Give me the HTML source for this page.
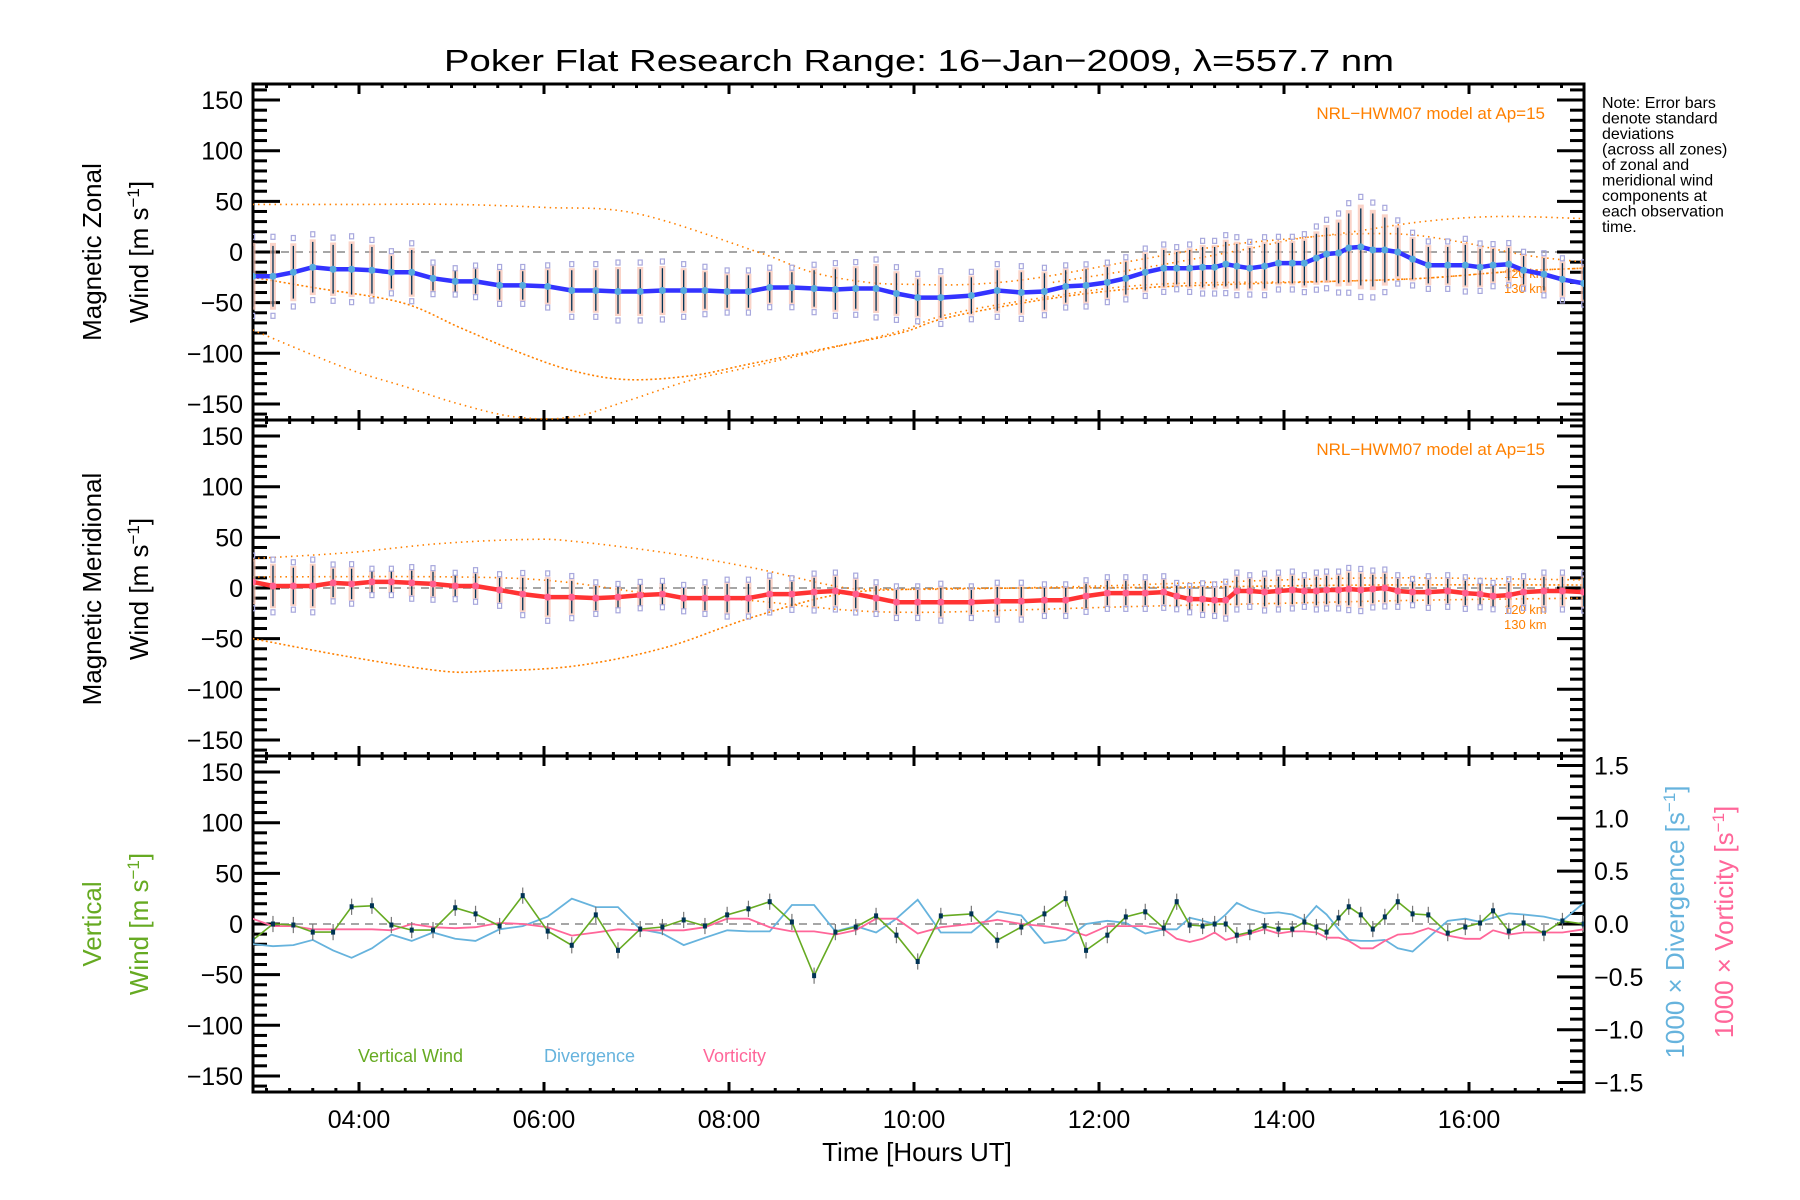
<!DOCTYPE html>
<html><head><meta charset="utf-8"><title>Poker Flat Research Range</title>
<style>
html,body{margin:0;padding:0;background:#fff;}
svg{display:block;font-family:"Liberation Sans",sans-serif;}
</style></head>
<body>
<svg id="chart" width="1800" height="1200" viewBox="0 0 1800 1200" xmlns="http://www.w3.org/2000/svg"></svg>
<script>
// ---- data ----
const times = [2.85,3.07,3.29,3.50,3.72,3.92,4.14,4.35,4.57,4.80,5.04,5.26,5.52,5.77,6.04,6.30,6.56,6.80,7.04,7.28,7.51,7.74,7.98,8.21,8.44,8.68,8.92,9.15,9.37,9.59,9.81,10.04,10.29,10.62,10.90,11.16,11.41,11.64,11.86,12.09,12.29,12.50,12.70,12.84,12.98,13.12,13.25,13.37,13.49,13.63,13.79,13.94,14.09,14.22,14.35,14.46,14.59,14.70,14.83,14.96,15.09,15.23,15.39,15.56,15.77,15.96,16.12,16.26,16.43,16.59,16.81,17.01,17.24];
const zonal = [-24,-24,-20,-15,-17,-17,-18,-20,-20,-26,-29,-29,-33,-33,-34,-38,-38,-39,-39,-38,-38,-38,-39,-39,-35,-35,-36,-37,-36,-36,-41,-45,-45,-43,-38,-40,-39,-34,-33,-30,-26,-20,-16,-16,-16,-15,-15,-12,-14,-16,-14,-11,-11,-11,-6,-2,-1,4,5,2,2,0,-7,-13,-13,-13,-15,-13,-12,-18,-22,-27,-31];
const zonalStd = [30,30,26,25,24,25,23,16,22,12,10,12,14,14,16,20,20,22,22,22,20,18,16,16,15,15,18,20,20,22,20,18,20,18,20,20,18,16,16,15,16,18,18,16,18,20,20,22,22,20,22,20,20,22,24,26,30,34,38,36,32,24,20,18,18,20,18,16,16,14,16,16,16];
const merid = [6,2,2,2,5,4,6,6,5,4,2,2,-2,-6,-9,-9,-10,-9,-7,-6,-10,-10,-10,-10,-6,-6,-4,-3,-6,-10,-14,-14,-14,-14,-13,-13,-12,-12,-8,-5,-5,-5,-4,-8,-11,-11,-12,-12,-3,-3,-4,-3,-2,-3,-3,-2,-2,-1,-2,-1,0,-3,-4,-4,-3,-5,-6,-8,-7,-4,-3,-3,-4];
const meridStd = [20,20,18,20,14,15,10,10,12,12,10,12,12,16,18,16,12,10,10,10,10,12,14,14,14,12,14,14,14,12,12,12,14,12,14,14,12,12,12,12,12,12,12,10,10,12,12,14,14,12,14,14,14,12,14,14,14,16,16,14,14,12,10,12,12,12,10,10,12,12,14,14,14];
const vertical = [-16,0,-1,-8,-8,17,18,-1,-6,-6,16,10,-2,28,-7,-21,9,-26,-5,-3,4,-2,9,15,22,2,-51,-8,-3,8,-11,-37,8,10,-16,-3,10,25,-26,-11,7,12,-4,22,-1,-2,0,0,-11,-8,-2,-5,-5,2,-3,-8,6,17,9,-5,7,22,10,9,-9,-3,1,13,-7,1,-9,3,0];
const divergence = [-0.19,-0.21,-0.2,-0.15,-0.25,-0.32,-0.23,-0.1,-0.16,-0.08,-0.14,-0.16,-0.05,-0.02,0.07,0.24,0.16,0.16,-0.05,-0.09,-0.2,-0.13,-0.06,-0.07,-0.07,0.18,0.18,-0.07,-0.02,-0.08,0.05,0.23,-0.08,-0.08,0.12,0.08,-0.18,-0.15,0,0.03,0.01,-0.09,-0.05,-0.05,0.06,0.03,0,0.09,0.2,0.14,0.1,0.11,0.09,0.04,0.17,0.09,-0.05,-0.15,-0.16,-0.16,-0.15,-0.23,-0.26,-0.13,0.03,0.05,0.02,0.06,0.1,0.09,0.07,0.03,0.2];
const vorticity = [0.05,-0.02,-0.02,-0.05,-0.05,-0.05,-0.05,-0.06,0,-0.03,-0.04,-0.03,0.01,0,-0.03,-0.11,-0.08,-0.05,-0.06,-0.06,-0.06,-0.03,0.05,0.05,-0.03,-0.07,-0.07,-0.1,-0.06,0.05,0.05,-0.09,-0.03,0,0.04,0,-0.02,-0.05,-0.11,-0.02,-0.02,-0.02,-0.05,-0.14,-0.17,-0.14,-0.08,-0.15,-0.12,-0.09,-0.05,-0.09,-0.07,-0.07,-0.08,-0.13,-0.13,-0.16,-0.23,-0.23,-0.16,-0.1,-0.09,-0.04,-0.11,-0.14,-0.14,-0.06,-0.1,-0.08,-0.08,-0.08,-0.05];
// model curves (time, value)
const modelZA_t = [2.85,4.0,5.0,6.0,7.0,8.31,8.9,9.5,10.0,10.6,11.3,12.35,13.4,14.5,15.5,16.3,17.24];
const modelZA_v = [47,47,47,44,38,0,-20,-30,-32,-32,-26,-9,7,17,30,35,33];
const modelZB_t = [2.85,3.5,4.46,5.1,5.7,6.3,6.9,7.6,8.2,9.0,9.85,10.35,11.4,12.4,13.4,14.5,15.5,16.5,17.24];
const modelZB_v = [-25,-35,-50,-75,-98,-117,-126,-122,-111,-96,-80,-65,-47,-36,-32,-29,-26,-19,-16];
const modelZC_t = [2.85,3.84,4.5,5.08,5.7,6.3,6.9,7.57,8.2,9.0,9.85,10.35,11.4,12.6,14.5,15.5,16.5,17.24];
const modelZC_v = [-77,-114,-133,-150,-163,-163,-147,-127,-114,-97,-78,-62,-45,-32,-29,-26,-19,-16];
const modelZD_t = [11.5,12.2,12.9,13.6,14.3,15.2,15.9,16.6,17.24];
const modelZD_v = [-30,-20,-9,3,15,18,10,-3,-10];
const modelMA_t = [2.85,3.9,4.9,5.85,6.33,7.3,8.25,9.2,9.7,10.5,12.0,13.0,15.0,17.24];
const modelMA_v = [29,35,44,48,46,35,20,1,-1,-1,2,5,10,8];
const modelMB_t = [2.85,5.0,6.1,7.2,8.2,9.3,10.1,11.0,12.5,14.0,15.5,17.24];
const modelMB_v = [11,11,7,-6,-12,-22,-24,-22,-18,-15,-12,-10];
const modelMC_t = [2.85,3.9,4.9,5.4,6.33,7.3,8.25,9.2,10.1,11.5,13.0,15.0,17.24];
const modelMC_v = [-50,-68,-82,-82,-77,-59,-29,-6,-1,0,1,3,3];
const yTicksWind = ["−150","−100","−50","0","50","100","150"];
const yTickValsWind = [-150,-100,-50,0,50,100,150];
const yTickValsRight = [-1.5,-1.0,-0.5,0.0,0.5,1.0,1.5];
const yTicksRight = ["−1.5","−1.0","−0.5","0.0","0.5","1.0","1.5"];
const xTickVals = [4,6,8,10,12,14,16];
const xTicks = ["04:00","06:00","08:00","10:00","12:00","14:00","16:00"];

// ---- scales ----
const NS = "http://www.w3.org/2000/svg";
const svg = document.getElementById('chart');
const X0 = 253, X1 = 1584;
const xS = t => 359 + (t - 4) * 92.5;
const panelTop = p => 84 + 336 * p;
const yS = (p, v) => panelTop(p) + 168 - v * 1.013;
const yR = v => 924 - v * 105.7;

function mk(tag, attrs, parent) {
  const e = document.createElementNS(NS, tag);
  for (const k in attrs) e.setAttribute(k, attrs[k]);
  (parent || svg).appendChild(e);
  return e;
}
function txt(s, attrs, parent) { const e = mk('text', attrs, parent); e.textContent = s; return e; }

// title
let t = txt("Poker Flat Research Range: 16\u2212Jan\u22122009, \u03bb=557.7 nm", {x: 919, y: 71, 'font-size': 31, 'text-anchor': 'middle', textLength: 950, lengthAdjust: 'spacingAndGlyphs'});



// note
const noteLines = ["Note: Error bars","denote standard","deviations","(across all zones)","of zonal and","meridional wind","components at","each observation","time."];
const note = mk('g', {});


noteLines.forEach((s, i) => { txt(s, {x: 1602, y: 108 + i * 15.5, 'font-size': 16}, note); });

const clipDefs = mk('defs', {});
for (let p = 0; p < 3; p++) {
  const c = mk('clipPath', {id: 'clip' + p}, clipDefs);
  mk('rect', {x: X0, y: panelTop(p), width: X1 - X0, height: 336}, c);
}

function poly(ts, vs, fy, attrs, parent) {
  const pts = ts.map((tt, i) => xS(tt).toFixed(1) + ',' + fy(vs[i]).toFixed(1)).join(' ');
  return mk('polyline', Object.assign({points: pts, fill: 'none'}, attrs), parent);
}
function smoothPath(ts, vs, fy) {
  const P = ts.map((tt, i) => [xS(tt), fy(vs[i])]);
  let d = 'M' + P[0][0].toFixed(1) + ',' + P[0][1].toFixed(1);
  for (let i = 0; i < P.length - 1; i++) {
    const p0 = P[Math.max(i - 1, 0)], p1 = P[i], p2 = P[i + 1], p3 = P[Math.min(i + 2, P.length - 1)];
    const c1 = [p1[0] + (p2[0] - p0[0]) / 6, p1[1] + (p2[1] - p0[1]) / 6];
    const c2 = [p2[0] - (p3[0] - p1[0]) / 6, p2[1] - (p3[1] - p1[1]) / 6];
    d += ' C' + c1.map(n => n.toFixed(1)).join(',') + ' ' + c2.map(n => n.toFixed(1)).join(',') + ' ' + p2[0].toFixed(1) + ',' + p2[1].toFixed(1);
  }
  return d;
}

// panels
const panelNames = ['zonal-panel', 'meridional-panel', 'vertical-panel'];
for (let p = 0; p < 3; p++) {
  const g = mk('g', {});
  
  
  const T = panelTop(p), B = T + 336;
  const z = mk('line', {x1: X0, x2: X1, y1: yS(p, 0), y2: yS(p, 0), stroke: '#888', 'stroke-width': 1.5, 'stroke-dasharray': '8,6'}, g);
  
  
  for (let v = -160; v <= 160; v += 10) {
    const y = yS(p, v); const major = v % 50 === 0;
    const L = major ? 27 : 14;
    mk('line', {x1: X0, x2: X0 + L, y1: y, y2: y, stroke: '#000', 'stroke-width': 3}, g);
    if (p < 2) mk('line', {x1: X1, x2: X1 - L, y1: y, y2: y, stroke: '#000', 'stroke-width': 3}, g);
  }
  yTickValsWind.forEach((v, i) => {
    const l = txt(yTicksWind[i], {x: 243, y: yS(p, v) + 9, 'font-size': 25, 'text-anchor': 'end'}, g);
    
    
  });
  for (let h = 3; h <= 17.25; h += 0.25) {
    const x = xS(h); if (x < X0 || x > X1) continue;
    const major = Math.abs(h % 2) < 1e-6;
    const L = major ? 10 : 4;
    mk('line', {x1: x, x2: x, y1: T, y2: T + L, stroke: '#000', 'stroke-width': 3}, g);
    mk('line', {x1: x, x2: x, y1: B, y2: B - L, stroke: '#000', 'stroke-width': 3}, g);
  }
  mk('rect', {x: X0, y: T, width: X1 - X0, height: 336, fill: 'none', stroke: '#000', 'stroke-width': 3}, g);
}

// right axis bottom panel
const rax = mk('g', {});


for (let k = -16; k <= 16; k++) {
  const v = k / 10; const y = yR(v); if (y < 757 || y > 1091) continue;
  const L = (k % 5 === 0) ? 27 : 14;
  mk('line', {x1: X1, x2: X1 - L, y1: y, y2: y, stroke: '#000', 'stroke-width': 3}, rax);
}
yTickValsRight.forEach((v, i) => {
  const l = txt(yTicksRight[i], {x: 1594, y: yR(v) + 9, 'font-size': 25}, rax);
  
  
});

// x tick labels
xTickVals.forEach((h, i) => {
  const l = txt(xTicks[i], {x: xS(h), y: 1128, 'font-size': 25, 'text-anchor': 'middle'});
  
  
});
t = txt("Time [Hours UT]", {x: 917, y: 1161, 'font-size': 26, 'text-anchor': 'middle'});



// axis titles
function vtitle(s, x, y, color, name) {
  const e = txt(s, {x: x, y: y, 'font-size': 26, 'text-anchor': 'middle', fill: color || '#000', transform: 'rotate(-90 ' + x + ' ' + y + ')'});
  
  
  return e;
}
function windUnit(x, y, color, name) {
  const e = mk('text', {x: x, y: y, 'font-size': 26, 'text-anchor': 'middle', fill: color, transform: 'rotate(-90 ' + x + ' ' + y + ')'});
  
  
  e.appendChild(document.createTextNode('Wind [m s'));
  const sp = document.createElementNS(NS, 'tspan'); sp.setAttribute('baseline-shift', 'super'); sp.setAttribute('font-size', 17); sp.textContent = '\u22121';
  e.appendChild(sp);
  e.appendChild(document.createTextNode(']'));
}
vtitle("Magnetic Zonal", 101, 252, '#000', 'zonal-y-title');
windUnit(148, 252, '#000', 'zonal-y-unit');
vtitle("Magnetic Meridional", 101, 589, '#000', 'meridional-y-title');
windUnit(148, 589, '#000', 'meridional-y-unit');
vtitle("Vertical", 101, 924, '#66aa22', 'vertical-y-title');
windUnit(148, 924, '#66aa22', 'vertical-y-unit');
function rightTitle(pre, x, color, name) {
  const e = mk('text', {x: x, y: 922, 'font-size': 26, 'text-anchor': 'middle', fill: color, transform: 'rotate(-90 ' + x + ' 922)'});
  
  
  e.appendChild(document.createTextNode(pre + ' [s'));
  const sp = document.createElementNS(NS, 'tspan'); sp.setAttribute('baseline-shift', 'super'); sp.setAttribute('font-size', 17); sp.textContent = '\u22121';
  e.appendChild(sp);
  e.appendChild(document.createTextNode(']'));
}
rightTitle("1000 \u00d7 Divergence", 1684, '#66b3dd', 'divergence-axis-title');
rightTitle("1000 \u00d7 Vorticity", 1733, '#ff6699', 'vorticity-axis-title');

// model labels
[0, 1].forEach(p => {
  const l = txt("NRL\u2212HWM07 model at Ap=15", {x: 1545, y: panelTop(p) + 35, 'font-size': 17, 'text-anchor': 'end', fill: '#ff8000'});
  
  
  const a = txt("120 km", {x: 1504, y: panelTop(p) + 194, 'font-size': 13, fill: '#ff8000'});
  
  
  const b = txt("130 km", {x: 1504, y: panelTop(p) + 209, 'font-size': 13, fill: '#ff8000'});
  
  
});

// model curves
function modelCurve(p, ts, vs, dash, name) {
  const e = mk('path', {d: smoothPath(ts, vs, v => yS(p, v)), fill: 'none', stroke: '#ff8000', 'stroke-width': 1.6, 'stroke-dasharray': dash, 'clip-path': 'url(#clip' + p + ')'});
  
  
}
modelCurve(0, modelZA_t, modelZA_v, '1.5,4', 'model-zonal-a');
modelCurve(0, modelZB_t, modelZB_v, '2,2.5', 'model-zonal-b');
modelCurve(0, modelZC_t, modelZC_v, '1.5,4', 'model-zonal-c');
modelCurve(0, modelZD_t, modelZD_v, '1.5,4', 'model-zonal-d');
modelCurve(1, modelMA_t, modelMA_v, '1.5,4', 'model-meridional-a');
modelCurve(1, modelMB_t, modelMB_v, '1.5,4', 'model-meridional-b');
modelCurve(1, modelMC_t, modelMC_v, '2,2.5', 'model-meridional-c');

// wind series with error bars
function windSeries(p, vals, stds, lineColor, markColor, name) {
  const g = mk('g', {'clip-path': 'url(#clip' + p + ')'});
  
  
  times.forEach((tt, i) => {
    const x = xS(tt);
    const sh = mk('rect', {x: x - 3, y: yS(p, vals[i] + stds[i] * 1.1), width: 6, height: stds[i] * 2.2 * 1.013, fill: '#f8c0b0', opacity: 0.7}, g);
    
    
    [1.3, -1.3].forEach(f => {
      const sq = mk('rect', {x: x - 2, y: yS(p, vals[i] + f * stds[i]) - 2.5, width: 4, height: 5, fill: 'none', stroke: '#a8a8dd', 'stroke-width': 1.2}, g);
      
      
    });
    const eb = mk('line', {x1: x, x2: x, y1: yS(p, vals[i] + stds[i]), y2: yS(p, vals[i] - stds[i]), stroke: '#003355', 'stroke-width': 1.3}, g);
    
    
  });
  const ln = poly(times, vals, v => yS(p, v), {stroke: lineColor, 'stroke-width': 4.5, 'stroke-linejoin': 'round'}, g);
  
  
  times.forEach((tt, i) => {
    const c = mk('circle', {cx: xS(tt), cy: yS(p, vals[i]), r: 3.5, fill: markColor}, g);
    
    
  });
}
windSeries(0, zonal, zonalStd, '#3333ff', '#55aadd', 'zonal-wind');
windSeries(1, merid, meridStd, '#ff3333', '#ff5f8f', 'meridional-wind');

// bottom panel
const gb = mk('g', {'clip-path': 'url(#clip2)'});


let e = poly(times, divergence, yR, {stroke: '#66b3dd', 'stroke-width': 1.8}, gb);


e = poly(times, vorticity, yR, {stroke: '#ff6699', 'stroke-width': 1.8}, gb);


times.forEach((tt, i) => {
  const eb = mk('line', {x1: xS(tt), x2: xS(tt), y1: yS(2, vertical[i] + 8), y2: yS(2, vertical[i] - 8), stroke: '#777', 'stroke-width': 1.2}, gb);
  
  
});
e = poly(times, vertical, v => yS(2, v), {stroke: '#66aa22', 'stroke-width': 1.6}, gb);


times.forEach((tt, i) => {
  const m = mk('rect', {x: xS(tt) - 2, y: yS(2, vertical[i]) - 2.5, width: 4, height: 5, fill: '#003355'}, gb);
  
  
});

// legend
const leg = mk('g', {});


e = txt("Vertical Wind", {x: 358, y: 1062, 'font-size': 18, fill: '#66aa22'}, leg);


e = txt("Divergence", {x: 544, y: 1062, 'font-size': 18, fill: '#66b3dd'}, leg);


e = txt("Vorticity", {x: 703, y: 1062, 'font-size': 18, fill: '#ff6699'}, leg);


</script>
</body></html>
